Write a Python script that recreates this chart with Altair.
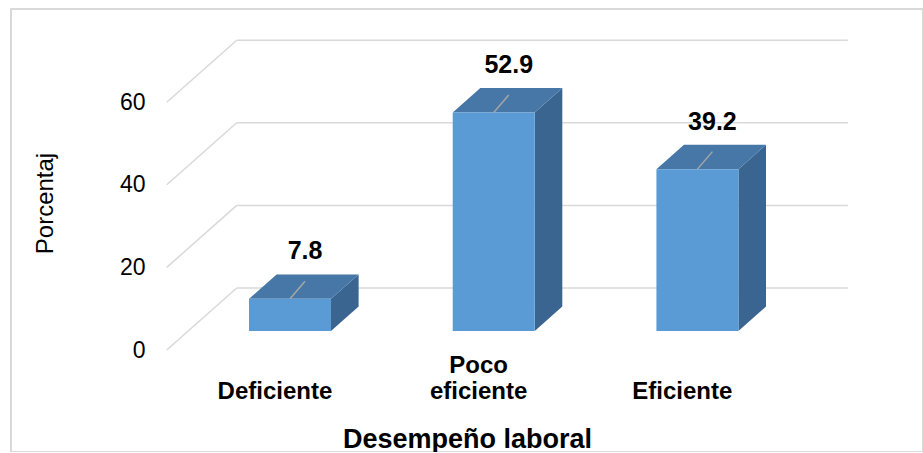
import altair as alt
import pandas as pd

# ---------------- data ----------------
categories = ["Deficiente", "Poco eficiente", "Eficiente"]
cat_labels = ["Deficiente", "Poco\neficiente", "Eficiente"]
values = [7.8, 52.9, 39.2]
y_ticks = [0, 20, 40, 60]

# ---------------- geometry (pixel constants of the 3-D look) ----------------
STEP_PX = 203.7      # px per category step
UNIT_PX = 4.13       # px per percentage point
DEPTH_X_PX = 70.0    # full depth of the floor, horizontal
DEPTH_Y_PX = 62.0    # full depth of the floor, vertical
BAR_W_PX = 82.0
FRONT_F = 0.306      # bar front plane as fraction of depth
BACK_F = 0.70        # bar back plane as fraction of depth
ORIGIN_X_PX = 268.6  # page x of first category centre at front plane
ORIGIN_Y_PX = 350.0  # page y of value 0 at front plane
VIEW_L, VIEW_T, VIEW_R, VIEW_B = 11, 9, 923, 452
CAT_LINE_H = 26

DX = DEPTH_X_PX / STEP_PX
DY = DEPTH_Y_PX / UNIT_PX
HW = BAR_W_PX / 2 / STEP_PX
LEAD_DX = 15 / STEP_PX
LEAD_DY = 17.5 / UNIT_PX
LABEL_GAP = 23 / UNIT_PX
CAT_BELOW = 54 / UNIT_PX

x_dom = [(VIEW_L - ORIGIN_X_PX) / STEP_PX, (VIEW_R - ORIGIN_X_PX) / STEP_PX]
y_dom = [(ORIGIN_Y_PX - VIEW_B) / UNIT_PX, (ORIGIN_Y_PX - VIEW_T) / UNIT_PX]
xs = alt.Scale(domain=x_dom, nice=False, zero=False)
ys = alt.Scale(domain=y_dom, nice=False, zero=False)

n = len(categories)
FONT = "Liberation Sans"

# ---------------- derived tables ----------------
grid_rows = []
for v in y_ticks:
    grid_rows.append(dict(x=-0.5, y=v, x2=-0.5 + DX, y2=v + DY))
    grid_rows.append(dict(x=-0.5 + DX, y=v + DY, x2=n - 0.5 + DX, y2=v + DY))
grid_df = pd.DataFrame(grid_rows)

front_rows, side_rows, top_rows, lead_rows, lab_rows, cat_rows = [], [], [], [], [], []
for i, (c, v, cl) in enumerate(zip(categories, values, cat_labels)):
    fx = i + FRONT_F * DX
    bx = i + BACK_F * DX
    fy = FRONT_F * DY
    by = BACK_F * DY
    front_rows.append(dict(cat=c, x=fx - HW, x2=fx + HW, y=fy, y2=v + fy))
    side_rows.append(dict(cat=c, x=fx + HW, y=fy, y2=v + fy))
    side_rows.append(dict(cat=c, x=bx + HW, y=by, y2=v + by))
    top_rows.append(dict(cat=c, y=v + fy, x=fx - HW, x2=fx + HW))
    top_rows.append(dict(cat=c, y=v + by, x=bx - HW, x2=bx + HW))
    lead_rows.append(dict(cat=c, x=fx, y=v + fy, x2=fx + LEAD_DX, y2=v + fy + LEAD_DY))
    lab_rows.append(dict(cat=c, x=fx + LEAD_DX, y=v + by + LABEL_GAP, t=f"{v:.1f}"))
    extra = cl.count("\n") * CAT_LINE_H / UNIT_PX
    cat_rows.append(dict(cat=c, x=i + 0.031, y=-CAT_BELOW + extra, t=cl))

front_df = pd.DataFrame(front_rows)
side_df = pd.DataFrame(side_rows)
top_df = pd.DataFrame(top_rows)
lead_df = pd.DataFrame(lead_rows)
lab_df = pd.DataFrame(lab_rows)
cat_df = pd.DataFrame(cat_rows)

GRID_C = "#D9D9D9"
FRONT_C = "#5B9BD5"
TOP_C = "#4677A6"
SIDE_C = "#3A6590"

x_axis = alt.Axis(
    title="Desempeño laboral", labels=False, ticks=False, domain=False, grid=False,
    titleFont=FONT, titleFontSize=27, titleFontWeight="bold", titleColor="black",
    titleBaseline="alphabetic", titleY=-5)
y_axis = alt.Axis(
    values=y_ticks, title="Porcentaj", grid=False, ticks=False, tickSize=0, domain=False,
    labelPadding=0, offset=-134, labelFont=FONT, labelFontSize=23, labelColor="black",
    labelAlign="right", labelBaseline="middle",
    titleFont=FONT, titleFontSize=24, titleFontWeight="normal", titleColor="black",
    titleAngle=270, titleAlign="center", titleBaseline="middle", titleX=-100, titleY=194)


def X(f="x", **kw):
    return alt.X(f"{f}:Q", scale=xs, axis=x_axis, **kw)


def Y(f="y", **kw):
    return alt.Y(f"{f}:Q", scale=ys, axis=y_axis, **kw)


grid = alt.Chart(grid_df).mark_rule(color=GRID_C, strokeWidth=1.5).encode(
    x=X(), x2="x2:Q", y=Y(), y2="y2:Q",
)

side = alt.Chart(side_df).mark_area(color=SIDE_C, orient="vertical").encode(
    x=X(), y=Y(stack=None), y2="y2:Q", detail="cat:N",
)

top = alt.Chart(top_df).mark_area(color=TOP_C, orient="horizontal").encode(
    y=Y(), x=X(stack=None), x2="x2:Q", detail="cat:N",
)

front = alt.Chart(front_df).mark_rect(color=FRONT_C).encode(
    x=X(), x2="x2:Q", y=Y(), y2="y2:Q",
)

lead = alt.Chart(lead_df).mark_rule(color="#A6A6A6", strokeWidth=1.5).encode(
    x=X(), x2="x2:Q", y=Y(), y2="y2:Q",
)

labels = alt.Chart(lab_df).mark_text(
    font=FONT, fontSize=25, fontWeight="bold", color="black", align="center", baseline="middle"
).encode(x=X(), y=Y(), text="t:N")

cats = alt.Chart(cat_df).mark_text(
    font=FONT, fontSize=24, fontWeight="bold", color="black", align="center",
    baseline="bottom", lineBreak="\n", lineHeight=CAT_LINE_H
).encode(x=X(), y=Y(), text="t:N")

chart = alt.layer(grid, side, top, front, lead, labels, cats).properties(
    width=VIEW_R - VIEW_L,
    height=VIEW_B - VIEW_T,
    padding={"left": VIEW_L, "top": VIEW_T, "right": 0, "bottom": 0},
    autosize="none",
    background="white",
).configure_view(stroke=GRID_C, strokeWidth=2)

chart.save("out.html", embed_options={"renderer": "svg", "actions": False})
